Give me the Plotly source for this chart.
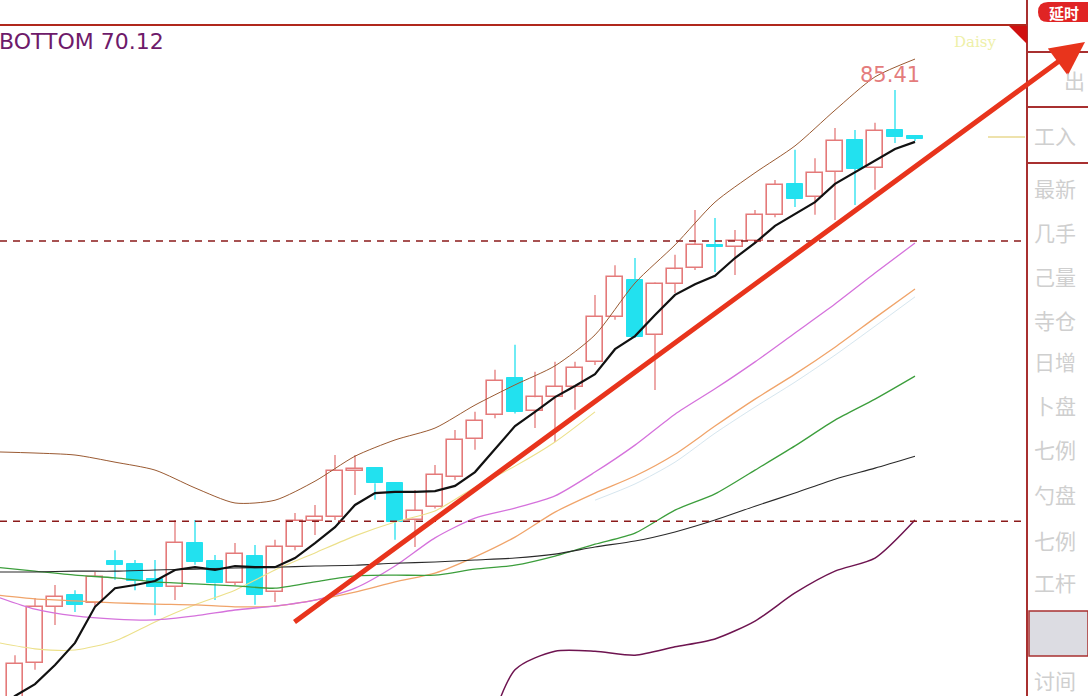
import plotly.graph_objects as go

W, H = 1088, 696

# ---------------- data ----------------
bar_idx = list(range(1, 47))
opens = [70.02,70.95,72.37,72.67,72.47,73.53,73.45,73.07,72.87,73.98,73.53,72.97,73.65,72.74,73.88,74.54,74.64,75.80,75.87,75.49,74.56,74.89,75.65,76.60,77.21,78.14,77.31,77.66,77.92,78.55,79.68,80.62,79.23,80.52,80.92,81.50,81.45,81.60,82.26,83.04,82.71,83.34,84.15,83.44,84.40,84.25]
highs = [71.15,72.59,72.92,72.79,73.25,73.80,73.55,73.55,74.56,74.56,73.68,73.98,73.93,74.06,74.74,74.94,76.20,76.20,75.90,75.52,75.32,75.95,76.83,77.29,78.35,78.98,78.30,78.55,78.55,80.24,80.99,81.17,80.55,81.25,82.38,82.18,81.88,82.38,83.14,83.90,83.69,84.45,84.40,84.58,85.41,84.27]
lows = [69.95,70.78,71.91,72.24,72.39,73.05,72.79,72.16,72.54,73.43,72.54,72.92,72.42,72.49,73.80,74.18,74.56,75.19,75.07,74.06,73.88,74.85,75.57,76.33,77.13,77.25,76.88,76.53,77.34,78.47,79.61,79.15,77.84,80.29,80.87,80.82,80.74,81.55,82.20,82.46,82.26,82.13,82.51,82.89,84.07,84.12]
closes = [70.93,72.37,72.62,72.42,73.12,73.43,73.02,72.87,73.98,73.50,72.96,73.70,72.67,73.88,74.54,74.64,75.80,75.85,75.49,74.51,74.79,75.70,76.58,77.06,78.07,77.29,77.66,77.92,78.40,79.68,80.69,79.18,80.52,80.89,81.50,81.45,81.60,82.26,83.01,82.66,83.32,84.12,83.42,84.38,84.22,84.17]

even_idx = list(range(0, 47, 2))
boll_upper = [76.28,76.25,76.20,76.02,75.82,75.37,74.99,75.06,75.54,76.17,76.58,76.88,77.46,77.97,78.45,79.23,80.54,81.50,82.58,83.32,84.00,84.90,85.74,86.19]
lower_idx = list(range(24, 47, 2))
boll_lower = [68.20,70.78,71.25,71.25,71.15,71.36,71.56,72.01,72.72,73.27,73.60,74.56]
ma5_idx = list(range(0, 47))
ma5 = [69.72,70.12,70.42,70.90,71.46,72.37,72.84,72.92,73.02,73.30,73.37,73.30,73.40,73.37,73.37,73.60,73.98,74.38,74.94,75.24,75.27,75.27,75.29,75.42,75.77,76.35,76.93,77.29,77.66,77.94,78.24,78.87,79.20,79.73,80.24,80.51,80.72,81.17,81.55,81.98,82.28,82.58,83.04,83.34,83.62,83.92,84.10]
ma_long = [73.25,73.25,73.27,73.27,73.30,73.32,73.35,73.37,73.40,73.42,73.47,73.50,73.55,73.60,73.70,73.88,74.03,74.26,74.56,74.91,75.24,75.59,75.87,76.17]
ma_green = [73.37,73.27,73.17,73.10,73.00,72.95,72.90,72.84,73.00,73.15,73.17,73.17,73.32,73.42,73.65,73.95,74.23,74.81,75.22,75.82,76.43,77.08,77.61,78.19]
ma_orange = [72.67,72.57,72.52,72.47,72.44,72.42,72.37,72.39,72.54,72.74,73.00,73.22,73.63,74.13,74.76,75.24,75.67,76.22,76.93,77.61,78.24,78.92,79.66,80.39]
ma_magenta = [72.64,72.31,72.14,72.06,72.04,72.14,72.29,72.39,72.54,72.84,73.40,74.11,74.61,74.86,75.17,75.77,76.45,77.23,77.87,78.55,79.28,80.01,80.79,81.55]
yellow_idx = list(range(0, 31, 2))
ma_yellow = [71.48,71.31,71.28,71.51,71.99,72.42,72.79,73.30,73.73,74.16,74.51,74.79,75.39,75.92,76.53,77.29]
pale_idx = list(range(30, 47, 2))
ma_pale = [75.06,75.47,76.02,76.75,77.41,78.04,78.72,79.45,80.19]

resist_levels = [81.60, 74.53]
trend_start = (14.9, 71.96)
trend_end = (54.5, 86.62)
top_label = "85.41"
bottom_label = "BOTTOM 70.12"
panel_labels = ["最新", "几手", "己量", "寺仓", "日增", "卜盘", "七例", "勺盘", "七例", "工杆", "讨间"]
panel_label_y = [188, 232, 276, 320, 361, 405, 449, 494, 540, 582, 680]

# ---------------- figure ----------------
UP = "#e47a7a"
DOWN = "#22e1ef"
fig = go.Figure()

up_x, up_b, up_h = [], [], []
dn_x, dn_b, dn_h = [], [], []
wu_x, wu_y, wd_x, wd_y = [], [], [], []
for i, o, h, l, c in zip(bar_idx, opens, highs, lows, closes):
    lo_b, hi_b = min(o, c), max(o, c)
    seg_x = [i, i, None, i, i, None]
    seg_y = [l, lo_b, None, hi_b, h, None]
    if c >= o:
        up_x.append(i); up_b.append(lo_b); up_h.append(max(hi_b - lo_b, 0.04))
        wu_x += seg_x; wu_y += seg_y
    else:
        dn_x.append(i); dn_b.append(lo_b); dn_h.append(max(hi_b - lo_b, 0.04))
        wd_x += seg_x; wd_y += seg_y

fig.add_trace(go.Scatter(x=wu_x, y=wu_y, mode="lines", line=dict(color=UP, width=1.3), hoverinfo="skip"))
fig.add_trace(go.Scatter(x=wd_x, y=wd_y, mode="lines", line=dict(color=DOWN, width=1.3), hoverinfo="skip"))
fig.add_trace(go.Bar(x=up_x, y=up_h, base=up_b, width=0.8,
                     marker=dict(color="rgba(255,255,255,0)", line=dict(color=UP, width=1.6))))
fig.add_trace(go.Bar(x=dn_x, y=dn_h, base=dn_b, width=0.8,
                     marker=dict(color=DOWN, line=dict(color=DOWN, width=1))))

def add_line(x, y, color, width, shape="spline"):
    fig.add_trace(go.Scatter(x=x, y=y, mode="lines", line=dict(color=color, width=width, shape=shape, smoothing=0.7),
                             hoverinfo="skip"))

add_line(pale_idx, ma_pale, "#d6e6ef", 1)
add_line(yellow_idx, ma_yellow, "#ece08a", 1.1)
add_line(even_idx, ma_orange, "#f0a46a", 1.3)
add_line(even_idx, ma_magenta, "#d572dc", 1.3)
add_line(even_idx, ma_green, "#3c9e3c", 1.3)
add_line(even_idx, ma_long, "#2a2a2a", 1.1)
add_line(even_idx, boll_upper, "#9a5a32", 1.0)
add_line(lower_idx, boll_lower, "#6e1450", 1.5)
add_line(ma5_idx, ma5, "#111111", 2.2, shape="linear")

def px(x):
    return x / W

def py(y):
    return 1 - y / H

shapes = []
for lv in resist_levels:
    shapes.append(dict(type="line", xref="x", yref="y", x0=0.25, x1=51.5, y0=lv, y1=lv,
                       line=dict(color="#8b1a1a", width=1.6, dash="7px,6px")))
# frame
shapes.append(dict(type="line", xref="paper", yref="paper", x0=0, x1=px(1027), y0=py(25), y1=py(25),
                   line=dict(color="#b0281c", width=2)))
shapes.append(dict(type="line", xref="paper", yref="paper", x0=px(1027), x1=px(1027), y0=0, y1=1,
                   line=dict(color="#a83030", width=2)))
shapes.append(dict(type="path", xref="paper", yref="paper",
                   path=f"M {px(1009)} {py(26)} L {px(1027)} {py(26)} L {px(1027)} {py(44)} Z",
                   fillcolor="#d01010", line=dict(width=0)))
for yy in [52, 107, 163]:
    shapes.append(dict(type="line", xref="paper", yref="paper", x0=px(1027), x1=1, y0=py(yy), y1=py(yy),
                       line=dict(color="#a83030", width=2)))
shapes.append(dict(type="rect", xref="paper", yref="paper", x0=px(1029), x1=1, y0=py(656), y1=py(611),
                   fillcolor="#dcdce2", line=dict(color="#a83030", width=1.5)))
shapes.append(dict(type="path", xref="paper", yref="paper",
                   path=(f"M {px(1048)} {py(2)} L {px(1090)} {py(2)} L {px(1090)} {py(22)} "
                         f"L {px(1048)} {py(22)} Q {px(1038)} {py(22)} {px(1038)} {py(12)} "
                         f"Q {px(1038)} {py(2)} {px(1048)} {py(2)} Z"),
                   fillcolor="#e02424", line=dict(width=0)))
shapes.append(dict(type="line", xref="paper", yref="paper", x0=px(988), x1=px(1025), y0=py(137), y1=py(137),
                   line=dict(color="#e8d890", width=1.5)))

annotations = []
annotations.append(dict(x=trend_end[0], y=trend_end[1], ax=trend_start[0], ay=trend_start[1],
                        xref="x", yref="y", axref="x", ayref="y", text="", showarrow=True,
                        arrowhead=2, arrowsize=1.35, arrowwidth=5, arrowcolor="#e8341c", standoff=0))
annotations.append(dict(x=45, y=85.41, xref="x", yref="y", text=top_label, showarrow=False,
                        xanchor="center", yanchor="middle",
                        xshift=-5, yshift=15, font=dict(family="DejaVu Sans", size=21, color="#e47c7c")))
annotations.append(dict(x=0, y=py(42), xref="paper", yref="paper", text=bottom_label, showarrow=False,
                        xanchor="left", yanchor="middle", xshift=-3,
                        font=dict(family="DejaVu Sans", size=22, color="#6e1a6a")))
annotations.append(dict(x=px(975), y=py(42), xref="paper", yref="paper", text="Daisy", showarrow=False,
                        xanchor="center", yanchor="middle",
                        font=dict(family="DejaVu Serif", size=15, color="#eef0a8")))
annotations.append(dict(x=px(1064), y=py(12), xref="paper", yref="paper", text="<b>延时</b>", showarrow=False,
                        xanchor="center", yanchor="middle",
                        font=dict(family="Noto Sans CJK SC", size=15, color="white")))
annotations.append(dict(x=px(1062), y=py(80), xref="paper", yref="paper", text="出", showarrow=False,
                        xanchor="left", yanchor="middle",
                        font=dict(family="Noto Sans CJK SC", size=21, color="#cfcfcf")))
annotations.append(dict(x=px(1032), y=py(135), xref="paper", yref="paper", text="工入", showarrow=False,
                        xanchor="left", yanchor="middle",
                        font=dict(family="Noto Sans CJK SC", size=21, color="#cfcfcf")))
for t, yy in zip(panel_labels, panel_label_y):
    annotations.append(dict(x=px(1032), y=py(yy), xref="paper", yref="paper", text=t, showarrow=False,
                            xanchor="left", yanchor="middle",
                            font=dict(family="Noto Sans CJK SC", size=21, color="#cfcfcf")))

fig.update_layout(
    width=W, height=H,
    margin=dict(l=0, r=0, t=0, b=0),
    paper_bgcolor="white", plot_bgcolor="white",
    showlegend=False, barmode="overlay", bargap=0,
    xaxis=dict(range=[0.25, 0.25 + W / 20], visible=False, fixedrange=True),
    yaxis=dict(range=[70.12, 87.68], visible=False, fixedrange=True),
    shapes=shapes, annotations=annotations,
)
fig.write_html("out.html", config={"displayModeBar": False},
               post_script="document.body.style.margin='0';document.body.style.overflow='hidden';")
